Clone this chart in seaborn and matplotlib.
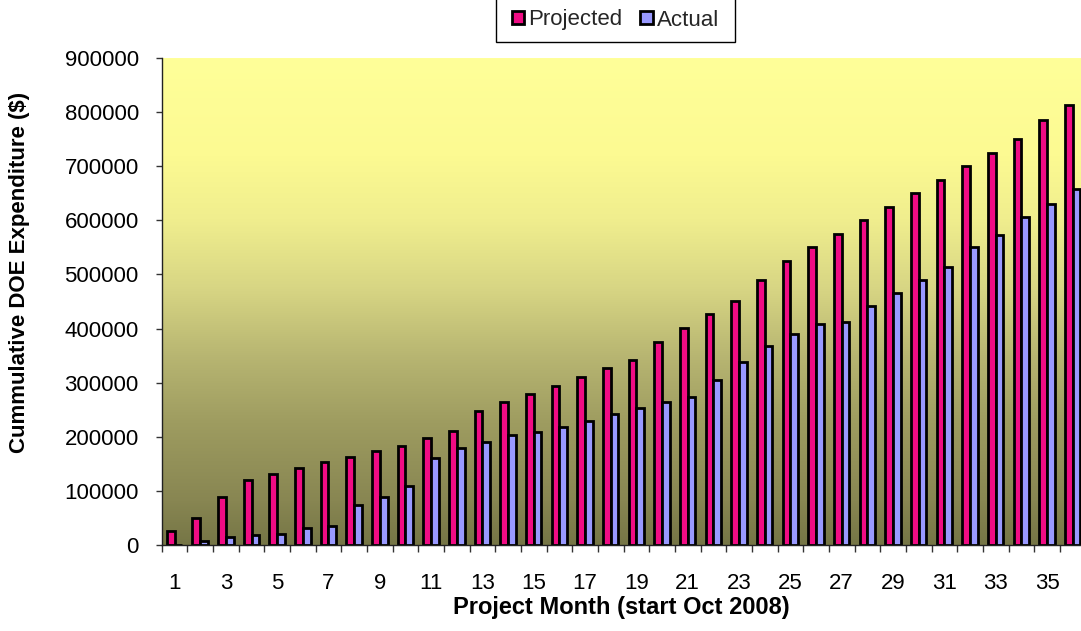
import numpy as np
import pandas as pd
import matplotlib
matplotlib.use("Agg")
import matplotlib.pyplot as plt
from matplotlib.colors import LinearSegmentedColormap
from matplotlib.patches import Rectangle
import seaborn as sns

# cumulative spend per project month
months = list(range(1, 37))
projected = [25000, 50000, 88000, 120000, 131000, 142000, 153000, 162000, 173000, 183000,
             198000, 211000, 248000, 264000, 279000, 294000, 311000, 327000, 342000, 375000,
             401000, 427000, 451000, 490000, 524000, 550000, 575000, 600000, 624000, 650000,
             674000, 700000, 724000, 750000, 785000, 814000]
actual = [0, 7000, 14000, 18000, 20000, 31000, 35000, 74000, 88000, 109000,
          161000, 179000, 190000, 203000, 209000, 218000, 229000, 242000, 253000, 264000,
          273000, 305000, 338000, 368000, 390000, 409000, 412000, 442000, 466000, 490000,
          513000, 550000, 572000, 607000, 631000, 657000]

df = pd.DataFrame({
    "Month": months * 2,
    "Value": projected + actual,
    "Series": ["Projected"] * 36 + ["Actual"] * 36,
})

sns.set_theme(style="white")
plt.rcParams["font.family"] = ["Liberation Sans", "DejaVu Sans"]

fig = plt.figure(figsize=(10.81, 6.31), dpi=100)
ax = fig.add_axes([161.7 / 1081, 86 / 631, 923.8 / 1081, 487 / 631])

sns.barplot(data=df, x="Month", y="Value", hue="Series",
            palette=["#F00C84", "#9999FF"], width=0.6,
            edgecolor="black", linewidth=2, saturation=1, ax=ax)

# plot area gradient, light yellow at top to olive at bottom
grad = LinearSegmentedColormap.from_list("bg", [
    (0.0, "#767646"), (0.09, "#888652"), (0.25, "#9E9C60"), (0.39, "#B8B672"),
    (0.53, "#D8D684"), (0.67, "#F0EE8E"), (0.80, "#FCFA92"), (1.0, "#FFFF99")])
ax.imshow(np.linspace(0, 1, 256).reshape(-1, 1), cmap=grad, origin="lower",
          extent=(0, 1, 0, 1), transform=ax.transAxes, aspect="auto", zorder=0)

ax.set_xlim(-0.5, 35.5)
ax.set_ylim(0, 900000)
ax.set_yticks(np.arange(0, 900001, 100000))
ax.set_yticklabels([str(v) for v in range(0, 900001, 100000)])
ax.set_xticks(range(0, 36, 2))
ax.set_xticklabels([str(m) for m in months[::2]])
ax.set_xticks(np.arange(-0.5, 36, 1), minor=True)

ax.tick_params(axis="x", which="major", length=0, pad=20, labelsize=16, labelcolor="black")
ax.tick_params(axis="x", which="minor", length=5, width=1, color="#333333", direction="out", bottom=True)
ax.tick_params(axis="y", length=4.5, width=1, color="#333333", direction="out", left=True,
               pad=12, labelsize=16, labelcolor="black")

for s in ["top", "right"]:
    ax.spines[s].set_visible(False)
for s in ["left", "bottom"]:
    ax.spines[s].set_color("#222222")
    ax.spines[s].set_linewidth(1)

ax.set_xlabel("Project Month (start Oct 2008)", fontsize=17, fontweight="bold", color="black")
ax.set_ylabel("Cummulative DOE Expenditure ($)", fontsize=16, fontweight="bold", color="black")
ax.xaxis.set_label_coords(0.498, -0.105)
ax.yaxis.set_label_coords(-0.1426, 0.56)

# legend box runs off the top of the image, so draw the frame by hand
fig.patches.append(Rectangle((496 / 1081, 1 - 42 / 631), 239 / 1081, 60 / 631,
                             transform=fig.transFigure, facecolor="white",
                             edgecolor="black", linewidth=1, zorder=1))
handles, labels = ax.get_legend_handles_labels()
ax.get_legend().remove()
leg = fig.legend(handles, labels, loc="center", ncol=2,
                 bbox_to_anchor=(615.5 / 1081, 1 - 20 / 631), fontsize=16,
                 frameon=False, handlelength=0.55, handleheight=0.55,
                 handletextpad=0.2, columnspacing=0.8, borderaxespad=0)
leg.set_zorder(2)

fig.savefig("out.png", dpi=100)
